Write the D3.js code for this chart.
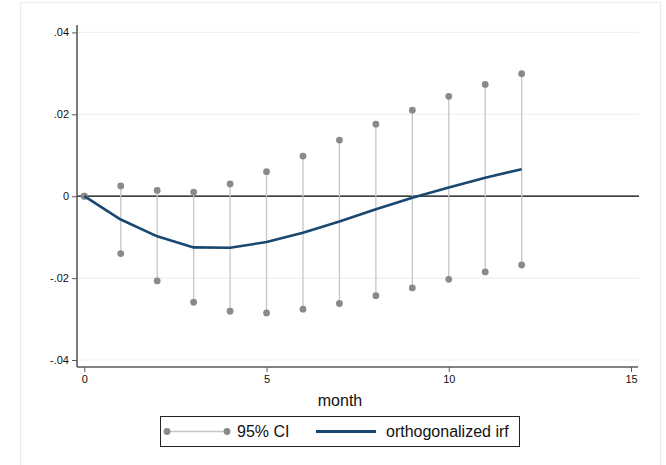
<!DOCTYPE html>
<html>
<head>
<meta charset="utf-8">
<script src="https://cdn.jsdelivr.net/npm/d3@7"></script>
<style>
  html, body { margin: 0; padding: 0; background: #fff; }
  svg { display: block; font-family: "Liberation Sans", Arial, sans-serif; }
</style>
</head>
<body>
<svg id="chart" width="666" height="465"></svg>
<script>
// ---- data ----
const months = [0, 1, 2, 3, 4, 5, 6, 7, 8, 9, 10, 11, 12];
const irf = [0, -0.0057, -0.0098, -0.0125, -0.0126, -0.0112, -0.0089, -0.0062, -0.0032, -0.0004, 0.0021, 0.0045, 0.0066];
const ciUpper = [0, 0.0025, 0.0014, 0.001, 0.003, 0.006, 0.0098, 0.0137, 0.0176, 0.021, 0.0244, 0.0273, 0.0299];
const ciLower = [0, -0.014, -0.0207, -0.0259, -0.0281, -0.0285, -0.0276, -0.0262, -0.0243, -0.0224, -0.0203, -0.0185, -0.0168];
const xTicks = [0, 5, 10, 15];
const yTicks = [-0.04, -0.02, 0, 0.02, 0.04];
const yTickLabels = ["-.04", "-.02", "0", ".02", ".04"];
const xTitle = "month";
const legendLabels = ["95% CI", "orthogonalized irf"];

// ---- layout ----
const svg = d3.select("#chart");
const plotLeft = 77, plotRight = 639, plotTop = 25, plotBottom = 367;
const x = d3.scaleLinear().domain([0, 15]).range([84.3, 631]);
const y = d3.scaleLinear().domain([-0.04, 0.04]).range([360, 32.4]);

const navy = "#1a476f";
const dotGray = "#8a8a8a";
const ciLineGray = "#c6c6c6";
const gridColor = "#eaf1f3";

// outer frame
svg.append("rect")
  .attr("x", 20.5).attr("y", 2.5).attr("width", 640).attr("height", 480)
  .attr("fill", "#fff").attr("stroke", "#e6eef2").attr("stroke-width", 1.2);

// gridlines
svg.append("g").selectAll("line")
  .data(yTicks.filter(d => d !== 0))
  .join("line")
  .attr("x1", plotLeft).attr("x2", plotRight)
  .attr("y1", d => y(d)).attr("y2", d => y(d))
  .attr("stroke", gridColor).attr("stroke-width", 1.2);

// zero line
svg.append("line")
  .attr("x1", plotLeft).attr("x2", plotRight)
  .attr("y1", y(0)).attr("y2", y(0))
  .attr("stroke", "#000").attr("stroke-width", 1.2);

// CI spikes
const ciData = months.map((m, i) => ({ m, lo: ciLower[i], hi: ciUpper[i] }));
svg.append("g").selectAll("line")
  .data(ciData)
  .join("line")
  .attr("x1", d => x(d.m)).attr("x2", d => x(d.m))
  .attr("y1", d => y(d.lo)).attr("y2", d => y(d.hi))
  .attr("stroke", ciLineGray).attr("stroke-width", 1.3);

const dots = [];
ciData.forEach(d => { dots.push({ m: d.m, v: d.hi }); dots.push({ m: d.m, v: d.lo }); });
svg.append("g").selectAll("circle")
  .data(dots)
  .join("circle")
  .attr("cx", d => x(d.m)).attr("cy", d => y(d.v))
  .attr("r", 3.4).attr("fill", dotGray);

// irf line
const line = d3.line().x((d, i) => x(months[i])).y(d => y(d));
svg.append("path")
  .datum(irf)
  .attr("d", line)
  .attr("fill", "none").attr("stroke", navy).attr("stroke-width", 2.6)
  .attr("stroke-linejoin", "round");

// axes
const axisColor = "#5a5a5a";
const yAxis = d3.axisLeft(y).tickValues(yTicks).tickSize(5).tickPadding(3)
  .tickFormat((d, i) => yTickLabels[yTicks.indexOf(d)]);
const gy = svg.append("g").attr("transform", `translate(${plotLeft},0)`).call(yAxis);
gy.select(".domain").remove();
gy.append("line").attr("x1", 0).attr("x2", 0).attr("y1", plotTop).attr("y2", plotBottom)
  .attr("stroke", axisColor).attr("stroke-width", 1.6);
gy.selectAll(".tick line").attr("stroke", axisColor).attr("stroke-width", 1);
gy.selectAll(".tick text").attr("font-size", 11).attr("fill", "#111")
  .attr("font-family", "'Liberation Sans', Arial, sans-serif");

const xAxis = d3.axisBottom(x).tickValues(xTicks).tickSize(5).tickPadding(3).tickFormat(d3.format("d"));
const gx = svg.append("g").attr("transform", `translate(0,${plotBottom})`).call(xAxis);
gx.select(".domain").remove();
gx.append("line").attr("x1", plotLeft).attr("x2", plotRight - 1).attr("y1", 0).attr("y2", 0)
  .attr("stroke", axisColor).attr("stroke-width", 1.6);
gx.selectAll(".tick line").attr("stroke", axisColor).attr("stroke-width", 1);
gx.selectAll(".tick text").attr("font-size", 11).attr("fill", "#111")
  .attr("font-family", "'Liberation Sans', Arial, sans-serif");

// x title
svg.append("text")
  .attr("x", 340).attr("y", 406)
  .attr("text-anchor", "middle").attr("font-size", 16).attr("fill", "#111")
  .text(xTitle);

// legend
const lg = svg.append("g");
lg.append("rect").attr("x", 160.5).attr("y", 416.5).attr("width", 359).attr("height", 30)
  .attr("fill", "#fff").attr("stroke", "#222").attr("stroke-width", 1);
const ly = 431.5;
lg.append("line").attr("x1", 167).attr("x2", 227).attr("y1", ly).attr("y2", ly)
  .attr("stroke", ciLineGray).attr("stroke-width", 1.3);
lg.selectAll("circle.l").data([167, 227]).join("circle")
  .attr("cx", d => d).attr("cy", ly).attr("r", 3.4).attr("fill", dotGray);
lg.append("text").attr("x", 237).attr("y", 437).attr("font-size", 16).attr("fill", "#111")
  .text(legendLabels[0]);
lg.append("line").attr("x1", 316).attr("x2", 376).attr("y1", ly).attr("y2", ly)
  .attr("stroke", navy).attr("stroke-width", 3);
lg.append("text").attr("x", 386).attr("y", 437).attr("font-size", 16).attr("fill", "#111")
  .text(legendLabels[1]);
</script>
</body>
</html>
